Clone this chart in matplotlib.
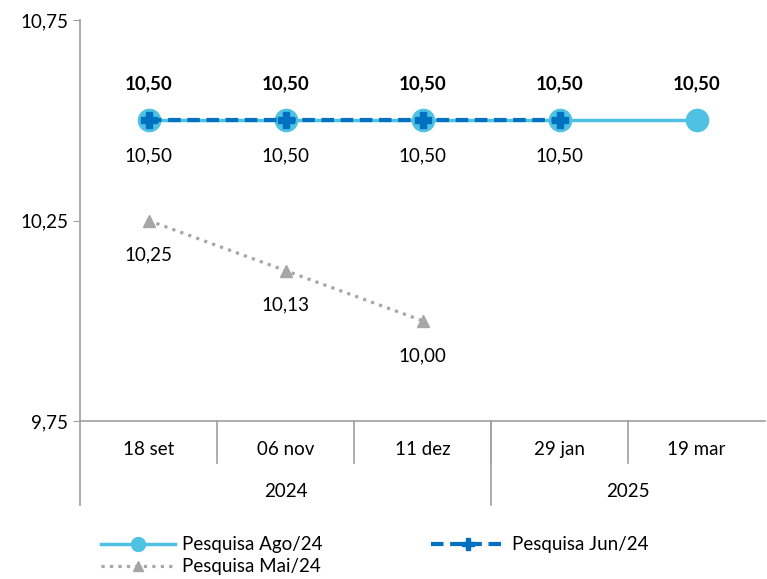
from decimal import Decimal, ROUND_HALF_UP
import numpy as np
import matplotlib.pyplot as plt
from matplotlib.lines import Line2D

plt.rcParams.update({"font.family": ["Lato", "DejaVu Sans"], "font.size": 13.5})

categories = ["18 set", "06 nov", "11 dez", "29 jan", "19 mar"]
years = ["2024", "2025"]
year_groups = [3, 2]  # categories per year
ago24 = [10.50, 10.50, 10.50, 10.50, 10.50]
jun24 = [10.50, 10.50, 10.50, 10.50]
mai24 = [10.25, 10.125, 10.00]
yticks = [9.75, 10.25, 10.75]

C_AGO = "#4FC1E3"
C_JUN = "#0070C0"
C_MAI = "#A6A6A6"
C_AX = "#A0A0A0"

def br(v):
    d = Decimal(str(v)).quantize(Decimal("0.01"), rounding=ROUND_HALF_UP)
    return str(d).replace(".", ",")

fig = plt.figure(figsize=(7.67, 5.79), dpi=100)
ax = fig.add_axes([80/767, 1 - 421/579, 685/767, 401/579])

x = np.arange(len(categories))
ax.plot(x[:len(ago24)], ago24, "-", color=C_AGO, lw=2.5, marker="o", ms=16,
        zorder=3)
ax.plot(x[:len(jun24)], jun24, "--", color=C_JUN, lw=3, dashes=(3, 1.6),
        marker="P", ms=12, mec=C_JUN, zorder=4)
ax.plot(x[:len(mai24)], mai24, ":", color=C_MAI, lw=2.3, marker="^", ms=9,
        zorder=3)

for xi, v in zip(x, ago24):
    ax.annotate(br(v), (xi, v), xytext=(0, 26), textcoords="offset points",
                ha="center", va="center", fontweight="bold")
for xi, v in zip(x, jun24):
    ax.annotate(br(v), (xi, v), xytext=(0, -26), textcoords="offset points",
                ha="center", va="center")
for xi, v in zip(x, mai24):
    ax.annotate(br(v), (xi, v), xytext=(0, -25), textcoords="offset points",
                ha="center", va="center")

ax.set_xlim(-0.5, len(categories) - 0.5)
ax.set_ylim(9.75, 10.75)
ax.set_yticks(yticks)
ax.set_yticklabels([br(t) for t in yticks])
ax.set_xticks([])
for s in ["top", "right"]:
    ax.spines[s].set_visible(False)
for s in ["left", "bottom"]:
    ax.spines[s].set_color(C_AX)
    ax.spines[s].set_linewidth(1.2)
ax.tick_params(axis="y", colors=C_AX, labelcolor="black", length=5,
               labelsize=13.5)

# category table below axis
tr = ax.get_xaxis_transform()
for b in np.arange(0.5, len(categories) - 0.5):
    ax.plot([b, b], [0, -0.105], color=C_AX, lw=1.2, transform=tr, clip_on=False)
for xi, c in zip(x, categories):
    ax.text(xi, -0.072, c, ha="center", va="center", transform=tr)
start = 0
for yr, n in zip(years, year_groups):
    ax.text(start + (n - 1) / 2, -0.177, yr, ha="center", va="center",
            transform=tr)
    edge = start - 0.5
    ax.plot([edge, edge], [0, -0.21], color=C_AX, lw=1.2, transform=tr,
            clip_on=False)
    start += n

handles = [
    Line2D([], [], color=C_AGO, lw=2.5, marker="o", ms=10),
    Line2D([], [], color=C_MAI, lw=2.3, ls=":", marker="^", ms=7),
    Line2D([], [], color=C_JUN, lw=3, ls="--", dashes=(3, 1.6), marker="P",
           ms=9),
]
labels = ["Pesquisa Ago/24", "Pesquisa Mai/24", "Pesquisa Jun/24"]
fig.legend(handles, labels, ncol=2, loc="upper left",
           bbox_to_anchor=(92/767, 1 - 527/579), frameon=False,
           handlelength=3.9, columnspacing=5.8, labelspacing=0.27,
           handletextpad=0.4, borderpad=0, fontsize=13.5)

fig.savefig("out.png", dpi=100)
